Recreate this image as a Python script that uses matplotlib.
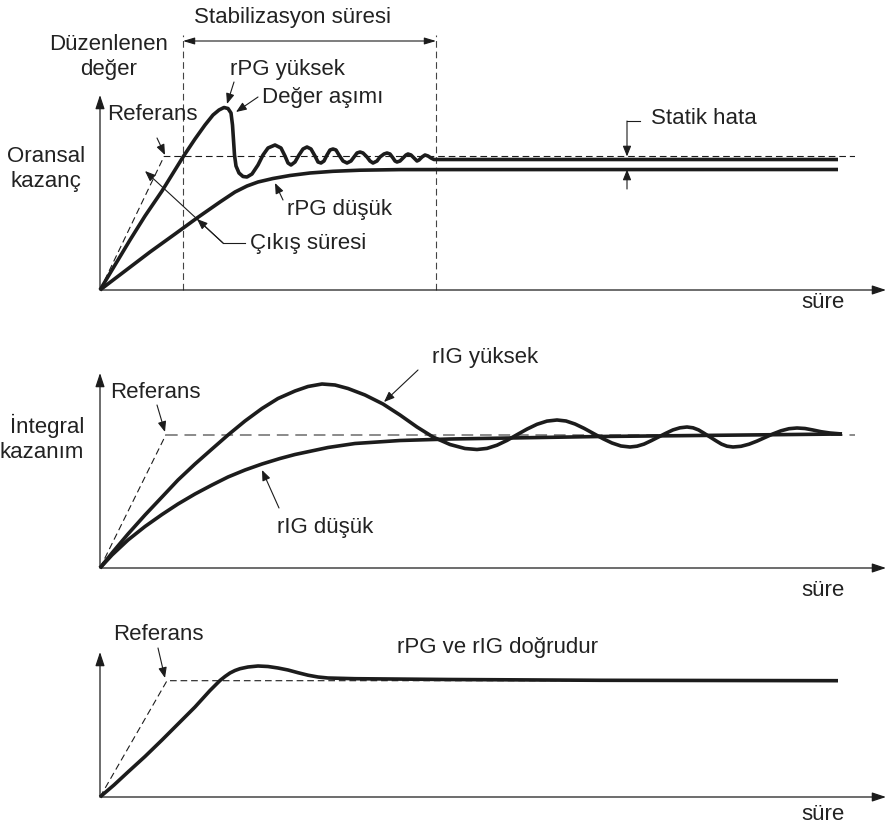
import matplotlib
matplotlib.use("Agg")
import matplotlib.pyplot as plt

plt.rcParams['font.family'] = ['Liberation Sans', 'DejaVu Sans']

# time axis: t, response axis: v (reference level ~133 in panels 1-2, ~116 in panel 3)

# panel 1 - oransal kazanç
p1_ref_t = [0, 64, 755]
p1_ref_v = [0, 133.5, 133.5]
rpg_high_t = [0, 15, 30, 45, 62, 83, 95, 105, 113, 119, 124, 128, 131, 132.5, 133.5, 134.5, 136, 139, 143, 147,
              152, 158, 163, 168, 175, 181, 185, 188, 191, 195, 199, 203, 207, 211, 215, 218, 221, 224, 227, 230,
              233, 236, 239, 243, 247, 251, 254, 257, 260, 263, 267, 270, 273, 277, 280, 284, 287, 290, 293, 295,
              297, 300, 303, 306, 308, 311, 314, 317, 319, 322, 325, 328, 331, 334, 738]
rpg_high_v = [0, 25, 50, 74, 99, 133, 151, 165, 175, 180, 182.5, 181.5, 177, 165, 150, 135, 124, 117, 113.5, 113,
              116, 125, 135, 142, 145, 142, 134, 127, 125, 128, 135, 141, 143, 141, 134, 128, 127, 129, 135, 140,
              141, 140, 135, 129, 127, 129, 133, 137, 138, 137, 133, 129, 127, 129, 133, 136, 137, 136, 132, 129,
              128, 129, 132, 135, 136, 135, 132, 129, 130, 133, 135, 134, 132, 130.5, 130.5]
rpg_low_t = [0, 25, 50, 75, 97, 120, 135, 147, 158, 173, 190, 210, 233, 260, 300, 738]
rpg_low_v = [0, 19, 38, 56, 72, 88, 98, 104, 108, 111.5, 114.5, 117, 118.7, 119.8, 120.4, 120.5]
settle_start, settle_end = 83, 336

# panel 2 - integral kazanım
p2_ref_t = [0, 66, 755]
p2_ref_v = [0, 133.5, 133.5]
rig_high_t = [0, 12, 28, 45, 62, 78, 95, 112, 128, 145, 162, 178, 195, 208, 222, 235, 248, 265, 283, 300,
              317, 333, 350, 365, 377, 387, 397, 407, 417, 427, 437, 447, 457, 466, 475, 484, 493.5, 503, 512, 521,
              530, 537, 544, 551, 558.5, 566, 573, 580, 587, 593, 598.5, 604, 610, 616, 621.5, 627, 633, 641,
              649, 657, 665, 673, 681, 689, 697, 705, 713, 721, 730, 742]
rig_high_v = [0, 15, 34, 53, 71, 88, 104, 119, 133, 147, 159.5, 169.5, 177, 181.5, 184, 183, 179.5, 173, 164, 153,
              141, 131, 123.5, 119.5, 118.5, 119.6, 122.8, 127.6, 133.3, 138.9, 143.7, 146.9, 148, 147, 144, 139.7,
              134.5, 129.3, 125, 122, 121, 121.8, 123.9, 127.2, 131, 134.8, 138.1, 140.2, 141, 140.2, 138.1, 134.8,
              131, 127.2, 123.9, 121.8, 121, 121.7, 123.8, 126.9, 130.5, 134.1, 137.2, 139.3, 140, 139.5, 138,
              136.3, 135, 134]
rig_low_t = [0, 12, 28, 45, 62, 78, 95, 112, 128, 145, 162, 180, 195, 228, 255, 300, 350, 500, 742]
rig_low_v = [0, 13, 28, 41.5, 53.5, 64, 74, 83, 91, 98, 104, 109.5, 113.5, 120.5, 124.5, 127.5, 129, 131.5, 134]

# panel 3 - doğru ayar
p3_ref_t = [0, 67, 485]
p3_ref_v = [0, 116.3, 116.3]
ok_t = [0, 14, 28, 45, 62, 78, 95, 105, 110, 115, 120, 125, 130, 135, 140, 148, 158, 168, 178, 188, 198, 208,
        218, 228, 255, 350, 500, 738]
ok_v = [0, 12, 25, 40.5, 57, 73, 90, 101, 106.5, 111.5, 116.5, 120.5, 124, 126.5, 128.3, 130, 131, 130.5, 129,
        127, 124.3, 121.8, 120, 119, 118.3, 117.5, 116.7, 116.3]

INK = '#1c1c1c'
TXT = '#222222'
FS = 16
LW = 2.6

fig = plt.figure(figsize=(8.87, 8.26), dpi=100)
W, H = 887, 826


def panel(top_px, bot_px, base_px):
    ax = fig.add_axes([0, (H - bot_px) / H, 1, (bot_px - top_px) / H])
    ax.set_xlim(-100, 787)
    ax.set_ylim(base_px - bot_px, base_px - top_px)
    ax.axis('off')
    return ax


def arrow(ax, start, end, lw=0.8, hl=0.45, hw=0.18):
    ax.annotate('', xy=end, xytext=start,
                arrowprops=dict(arrowstyle='-|>,head_length=%s,head_width=%s' % (hl, hw),
                                lw=lw, color=INK, shrinkA=0, shrinkB=0, mutation_scale=14),
                annotation_clip=False)


def axes_arrows(ax, ytop, sure_y):
    arrow(ax, (0, 0), (0, ytop), lw=0.9, hl=0.6, hw=0.2)
    arrow(ax, (0, 0), (786, 0), lw=0.9, hl=0.6, hw=0.2)
    ax.text(723, sure_y, 'süre', fontsize=FS, color=TXT, ha='center', va='center')


def curve(ax, t, v):
    ax.plot(t, v, color=INK, lw=LW, solid_joinstyle='round', solid_capstyle='butt')


# ---- panel 1
ax1 = panel(0, 320, 290)
axes_arrows(ax1, 195, -13)
ax1.plot(p1_ref_t, p1_ref_v, color=INK, lw=0.8, dashes=(6, 3.5))
for s in (settle_start, settle_end):
    ax1.plot([s, s], [0, 255], color='#444444', lw=0.8, dashes=(6, 3.5))
ax1.annotate('', xy=(settle_start, 249), xytext=(settle_end, 249),
             arrowprops=dict(arrowstyle='<|-|>,head_length=0.5,head_width=0.15', lw=0.8, color=INK,
                             shrinkA=0, shrinkB=0, mutation_scale=14))
curve(ax1, rpg_low_t, rpg_low_v)
curve(ax1, rpg_high_t, rpg_high_v)

ax1.text(193, 273, 'Stabilizasyon süresi', fontsize=FS, color=TXT, ha='center', va='center')
ax1.text(9, 233.5, 'Düzenlenen\ndeğer', fontsize=FS, color=TXT, ha='center', va='center', linespacing=1.25)
ax1.text(-54, 121, 'Oransal\nkazanç', fontsize=FS, color=TXT, ha='center', va='center', linespacing=1.25)
ax1.text(7, 175, 'Referans', fontsize=FS, color=TXT, ha='left', va='center')
arrow(ax1, (57, 152), (65, 135))
ax1.text(130, 220, 'rPG yüksek', fontsize=FS, color=TXT, ha='left', va='center')
arrow(ax1, (134, 208), (127, 186))
ax1.text(162, 193, 'Değer aşımı', fontsize=FS, color=TXT, ha='left', va='center')
arrow(ax1, (158, 193), (136, 178))
ax1.text(187, 80, 'rPG düşük', fontsize=FS, color=TXT, ha='left', va='center')
arrow(ax1, (183, 90), (175, 107))
ax1.text(150, 46, 'Çıkış süresi', fontsize=FS, color=TXT, ha='left', va='center')
ax1.plot([145, 123], [47, 47], color=INK, lw=0.8)
arrow(ax1, (123, 47), (45, 119))
arrow(ax1, (123, 47), (97, 71))
ax1.text(551, 172, 'Statik hata', fontsize=FS, color=TXT, ha='left', va='center')
ax1.plot([540, 527], [169, 169], color=INK, lw=0.8)
arrow(ax1, (527, 169), (527, 133.5))
arrow(ax1, (527, 101), (527, 120.5))

# ---- panel 2
ax2 = panel(320, 600, 568)
axes_arrows(ax2, 195, -22)
ax2.plot(p2_ref_t[:2], p2_ref_v[:2], color=INK, lw=0.8, dashes=(6, 3.5))
ax2.plot(p2_ref_t[1:], p2_ref_v[1:], color='#8a8a8a', lw=1.4, dashes=(6, 3.5))
curve(ax2, rig_low_t, rig_low_v)
curve(ax2, rig_high_t, rig_high_v)
ax2.text(10, 176, 'Referans', fontsize=FS, color=TXT, ha='left', va='center')
arrow(ax2, (57, 163), (65, 136))
ax2.text(-16, 129.5, 'İntegral\nkazanım', fontsize=FS, color=TXT, ha='right', va='center', linespacing=1.25)
ax2.text(332, 211, 'rIG yüksek', fontsize=FS, color=TXT, ha='left', va='center')
arrow(ax2, (318, 198), (284, 166))
ax2.text(177, 41, 'rIG düşük', fontsize=FS, color=TXT, ha='left', va='center')
arrow(ax2, (179, 60), (162, 98))

# ---- panel 3
ax3 = panel(600, 826, 797)
axes_arrows(ax3, 145, -18)
ax3.plot(p3_ref_t, p3_ref_v, color=INK, lw=0.8, dashes=(6, 3.5))
curve(ax3, ok_t, ok_v)
ax3.text(13, 162, 'Referans', fontsize=FS, color=TXT, ha='left', va='center')
arrow(ax3, (58, 149), (65, 119))
ax3.text(297, 149, 'rPG ve rIG doğrudur', fontsize=FS, color=TXT, ha='left', va='center')

fig.savefig('out.png', dpi=100)
